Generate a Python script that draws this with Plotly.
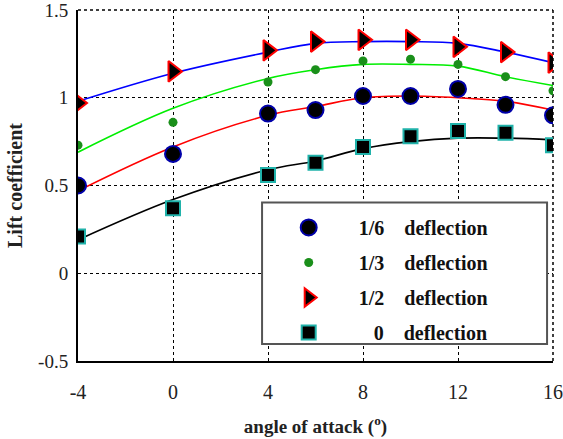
import plotly.graph_objects as go

alpha = [-4, 0, 4, 6, 8, 10, 12, 14, 16]

# measured points
cl_16 = [0.50, 0.68, 0.91, 0.93, 1.01, 1.01, 1.05, 0.96, 0.90]
cl_13 = [0.73, 0.86, 1.09, 1.16, 1.21, 1.22, 1.19, 1.12, 1.04]
cl_12 = [0.97, 1.15, 1.27, 1.32, 1.33, 1.33, 1.29, 1.26, 1.20]
cl_0 = [0.21, 0.37, 0.56, 0.63, 0.72, 0.78, 0.81, 0.80, 0.73]

# fitted curves
fit_16 = [0.47, 0.72, 0.90, 0.95, 1.00, 1.01, 1.00, 0.98, 0.93]
fit_13 = [0.69, 0.94, 1.11, 1.16, 1.19, 1.19, 1.18, 1.12, 1.07]
fit_12 = [0.98, 1.14, 1.26, 1.31, 1.32, 1.32, 1.31, 1.26, 1.20]
fit_0 = [0.19, 0.42, 0.59, 0.64, 0.71, 0.75, 0.77, 0.77, 0.76]

x_ticks = [-4, 0, 4, 8, 12, 16]
x_tick_text = ["-4", "0", "4", "8", "12", "16"]
y_ticks = [-0.5, 0, 0.5, 1, 1.5]
y_tick_text = ["-0.5", "0", "0.5", "1", "1.5"]

NB = "\u00a0"
labels = [NB * 3 + "1/6" + NB * 4 + "deflection",
          NB * 3 + "1/3" + NB * 4 + "deflection",
          NB * 3 + "1/2" + NB * 4 + "deflection",
          NB * 6 + "0" + NB * 4 + "deflection"]

fig = go.Figure()

for fit, col in [(fit_12, "#0000ff"), (fit_13, "#00ee00"), (fit_16, "#ff0000"), (fit_0, "#000000")]:
    fig.add_trace(go.Scatter(x=alpha, y=fit, mode="lines", line=dict(color=col, width=1.6, shape="spline"),
                             showlegend=False, hoverinfo="skip"))

marker_specs = [
    dict(symbol="circle", size=16, color="black", line=dict(color="#0000aa", width=2)),
    dict(symbol="circle", size=9, color="#1a8f1a", line=dict(width=0)),
    dict(symbol="triangle-right", size=18, color="black", line=dict(color="#ff0000", width=2)),
    dict(symbol="square", size=14, color="black", line=dict(color="#20b2aa", width=2)),
]
series = [cl_16, cl_13, cl_12, cl_0]
for i, (vals, mk, lab) in enumerate(zip(series, marker_specs, labels)):
    fig.add_trace(go.Scatter(x=alpha, y=vals, mode="markers", marker=mk, name=lab, legendgroup=f"g{i}"))

# legend frame and dotted outer border (top / right)
fig.add_shape(type="rect", xref="x", yref="y", x0=3.75, x1=15.75, y0=-0.403, y1=0.403,
              line=dict(color="#555555", width=2), fillcolor="white", layer="above")
fig.add_shape(type="line", xref="paper", yref="paper", x0=0, x1=1, y0=1, y1=1,
              line=dict(color="black", width=1.5, dash="dot"), layer="below")
fig.add_shape(type="line", xref="paper", yref="paper", x0=1, x1=1, y0=0, y1=1,
              line=dict(color="black", width=1.5, dash="dot"), layer="below")

serif = "Liberation Serif"
fig.update_layout(
    width=563, height=439,
    margin=dict(l=78, r=10, t=10, b=78),
    paper_bgcolor="white", plot_bgcolor="white",
    font=dict(family=serif, size=19, color="#222"),
    showlegend=True,
    legend=dict(x=0.412, y=0.436, xanchor="left", yanchor="top", bgcolor="rgba(0,0,0,0)",
                borderwidth=0, itemwidth=60, traceorder="grouped", tracegroupgap=6,
                font=dict(family=serif, size=20, color="#111", weight="bold")),
    xaxis=dict(range=[-4, 16], tickvals=x_ticks, ticktext=x_tick_text, showgrid=True, gridcolor="black",
               griddash="dot", gridwidth=1, showline=True, linecolor="black", linewidth=2, zeroline=False,
               ticks="", ticklabelstandoff=12, automargin=False, tickfont=dict(size=20),
               title=dict(text="<b>angle of attack (<sup>o</sup>)</b>", font=dict(size=19), standoff=18)),
    yaxis=dict(range=[-0.5, 1.5], tickvals=y_ticks, ticktext=y_tick_text, showgrid=True, gridcolor="black",
               griddash="dot", gridwidth=1, showline=True, linecolor="black", linewidth=2, zeroline=False,
               ticks="", ticklabelstandoff=4, ticklabeloverflow="allow", automargin=False,
               tickfont=dict(size=19),
               title=dict(text="<b>Lift coefficient</b>", font=dict(size=20), standoff=10)),
)

fig.write_html("out.html", config={"displayModeBar": False},
               post_script="document.body.style.margin='0';")
